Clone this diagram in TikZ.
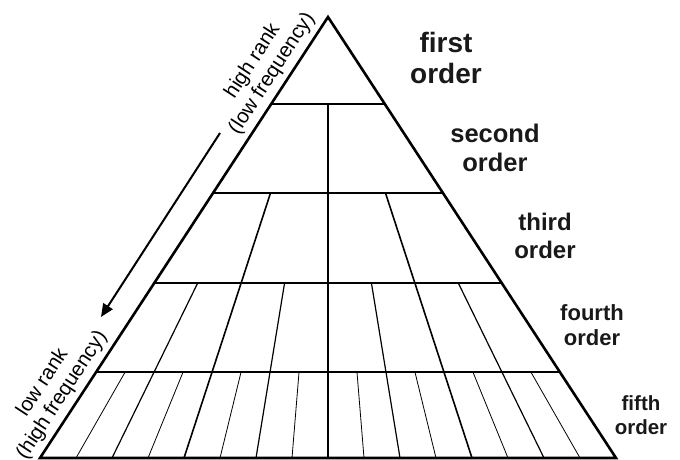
\documentclass[tikz,border=0pt]{standalone}
\usepackage{fontspec}
\setmainfont{Liberation Sans}
\usetikzlibrary{arrows.meta}
\begin{document}
\begin{tikzpicture}[x=1pt,y=-1pt,
  hline/.style={line width=1.9pt},
  outline/.style={line width=2.6pt,line join=miter},
  ord/.style={align=center,inner sep=0pt,text=black!90},
  side/.style={align=center,inner sep=0pt,rotate=56.9,font=\fontsize{20.5}{23}\selectfont}]
\useasboundingbox (0,0) rectangle (680,460);
\def\ax{328}\def\ay{17}\def\by{458}\def\hw{288}
\pgfmathsetmacro\slope{\hw/(\by-\ay)}
\coordinate (apex) at (\ax,\ay);
\coordinate (bl) at (\ax-\hw,\by);
\coordinate (br) at (\ax+\hw,\by);
% horizontal level lines
\foreach \y in {104,193,283,372} {
  \pgfmathsetmacro\d{\slope*(\y-\ay)}
  \draw[hline] (\ax-\d,\y) -- (\ax+\d,\y);
}
% dividers radiating from the apex
\foreach \r/\yt/\w in {2/104/1.8,3/193/1.6,4/283/1.2,5/372/0.8} {
  \pgfmathtruncatemacro\nj{2^(\r-2)}
  \foreach \j in {1,...,\nj} {
    \pgfmathsetmacro\t{-1+2*(2*\j-1)/2^(\r-1)}
    \pgfmathsetmacro\xt{\ax+\t*\slope*(\yt-\ay)}
    \pgfmathsetmacro\xb{\ax+\t*\hw}
    \draw[line width=\w pt] (\xt,\yt) -- (\xb,\by);
  }
}
% outer triangle
\draw[outline] (apex) -- (br) -- (bl) -- cycle;
% arrow
\coordinate (a1) at (220,133);
\coordinate (a2) at (101,317);
\draw[line width=2pt,-{Triangle[length=13pt,width=11pt]}] (a1) -- (a2);
% order labels
\node[ord,font=\bfseries\fontsize{28}{31}\selectfont] (o1) at (446,57.5) {first\\order};
\node[ord,font=\bfseries\fontsize{25.5}{29}\selectfont] (o2) at (495,147.5) {second\\order};
\node[ord,font=\bfseries\fontsize{24}{28}\selectfont] (o3) at (545,236) {third\\order};
\node[ord,font=\bfseries\fontsize{22}{25}\selectfont] (o4) at (592,325.5) {fourth\\order};
\node[ord,font=\bfseries\fontsize{20.5}{24}\selectfont] (o5) at (641,415) {fifth\\order};
% side labels
\node[side] (hi) at (262.5,67.5) {high rank\\(low frequency)};
\node[side] (lo) at (52.5,389) {low rank\\(high frequency)};
\end{tikzpicture}
\end{document}
